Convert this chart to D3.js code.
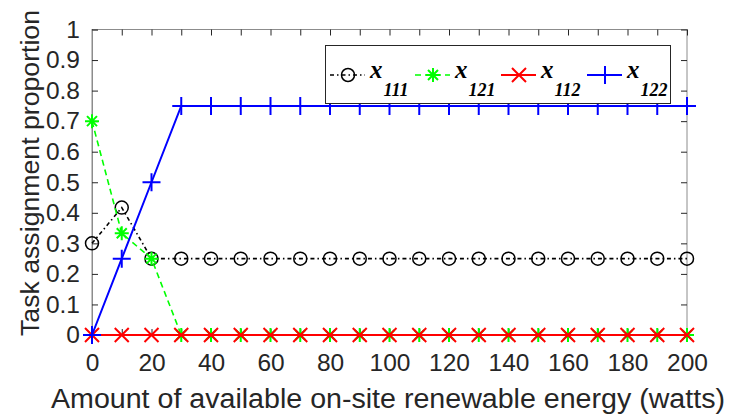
<!DOCTYPE html>
<html>
<head>
<meta charset="utf-8">
<script src="https://cdn.jsdelivr.net/npm/d3@7"></script>
<style>
  body { margin: 0; background: #fff; }
  svg { display: block; }
</style>
</head>
<body>
<div id="chart"></div>
<script>
// chart size and plot box
const width = 729;
const height = 418;
const margin = {left: 92, right: 42, top: 29.5, bottom: 83};

// data
const energy = [0, 10, 20, 30, 40, 50, 60, 70, 80, 90, 100, 110, 120, 130, 140, 150, 160, 170, 180, 190, 200];
const x111 = [0.3, 0.417, 0.25, 0.25, 0.25, 0.25, 0.25, 0.25, 0.25, 0.25, 0.25, 0.25, 0.25, 0.25, 0.25, 0.25, 0.25, 0.25, 0.25, 0.25, 0.25];
const x121 = [0.7, 0.333, 0.25, 0, 0, 0, 0, 0, 0, 0, 0, 0, 0, 0, 0, 0, 0, 0, 0, 0, 0];
const x112 = [0, 0, 0, 0, 0, 0, 0, 0, 0, 0, 0, 0, 0, 0, 0, 0, 0, 0, 0, 0, 0];
const x122 = [0, 0.25, 0.5, 0.75, 0.75, 0.75, 0.75, 0.75, 0.75, 0.75, 0.75, 0.75, 0.75, 0.75, 0.75, 0.75, 0.75, 0.75, 0.75, 0.75, 0.75];
const seriesNames = ["111", "121", "112", "122"];
const xTicks = d3.range(0, 201, 10);
const yTicks = d3.range(0, 1.0001, 0.1);

const series = [
  {sub: seriesNames[0], values: x111, color: "#000000", dash: "4,3,1.5,3", marker: "circle"},
  {sub: seriesNames[1], values: x121, color: "#00ff00", dash: "6,4", marker: "star"},
  {sub: seriesNames[2], values: x112, color: "#ff0000", dash: null, marker: "cross"},
  {sub: seriesNames[3], values: x122, color: "#0000ff", dash: null, marker: "plus"}
];

const svg = d3.select("#chart")
  .append("svg")
  .attr("width", width)
  .attr("height", height);

const xScale = d3.scaleLinear()
  .domain([0, 200])
  .range([margin.left, width - margin.right]);

const yScale = d3.scaleLinear()
  .domain([0, 1])
  .range([height - margin.bottom, margin.top]);

const axisColor = "#262626";
const font = "'Liberation Sans', Arial, sans-serif";

// box
svg.append("rect")
  .attr("x", xScale(0))
  .attr("y", yScale(1))
  .attr("width", xScale(200) - xScale(0))
  .attr("height", yScale(0) - yScale(1))
  .attr("fill", "none")
  .attr("stroke", "#8c8c8c")
  .attr("stroke-width", 1);

// axes with inward ticks
const tickLen = 6;
svg.append("g")
  .attr("transform", `translate(0,${yScale(0)})`)
  .call(d3.axisBottom(xScale).tickValues(xTicks).tickSize(-tickLen).tickPadding(19)
    .tickFormat(d => d % 20 === 0 ? d : ""))
  .call(g => g.select(".domain").attr("stroke", "#8c8c8c"))
  .call(g => g.selectAll("line").attr("stroke", axisColor))
  .call(g => g.selectAll("text").attr("font-family", font).attr("font-size", "24.5px").attr("fill", axisColor));

svg.append("g")
  .attr("transform", `translate(0,${yScale(1)})`)
  .call(d3.axisTop(xScale).tickValues(xTicks).tickSize(-tickLen).tickFormat(""))
  .call(g => g.select(".domain").remove())
  .call(g => g.selectAll("line").attr("stroke", axisColor));

svg.append("g")
  .attr("transform", `translate(${xScale(0)},0)`)
  .call(d3.axisLeft(yScale).tickValues(yTicks).tickSize(-tickLen).tickPadding(12)
    .tickFormat(d => d3.format("~g")(+d.toFixed(1))))
  .call(g => g.select(".domain").attr("stroke", "#8c8c8c"))
  .call(g => g.selectAll("line").attr("stroke", axisColor))
  .call(g => g.selectAll("text").attr("font-family", font).attr("font-size", "24.5px").attr("fill", axisColor));

svg.append("g")
  .attr("transform", `translate(${xScale(200)},0)`)
  .call(d3.axisRight(yScale).tickValues(yTicks).tickSize(-tickLen).tickFormat(""))
  .call(g => g.select(".domain").remove())
  .call(g => g.selectAll("line").attr("stroke", axisColor));

// axis titles
svg.append("text")
  .attr("x", 388)
  .attr("y", 408)
  .attr("text-anchor", "middle")
  .attr("font-family", font)
  .attr("font-size", "27px")
  .attr("textLength", 674)
  .attr("lengthAdjust", "spacingAndGlyphs")
  .attr("fill", axisColor)
  .text("Amount of available on-site renewable energy (watts)");

svg.append("text")
  .attr("transform", `translate(39,173) rotate(-90)`)
  .attr("text-anchor", "middle")
  .attr("font-family", font)
  .attr("font-size", "26px")
  .attr("textLength", 326)
  .attr("lengthAdjust", "spacingAndGlyphs")
  .attr("fill", axisColor)
  .text("Task assignment proportion");

// marker drawing
function drawMarker(g, type, color) {
  if (type === "circle") {
    g.append("circle").attr("r", 6.5).attr("fill", "none").attr("stroke", color).attr("stroke-width", 1.5);
  } else if (type === "plus") {
    g.append("path").attr("d", "M-9,0H9M0,-9V9").attr("stroke", color).attr("stroke-width", 2);
  } else if (type === "cross") {
    g.append("path").attr("d", "M-7,-7L7,7M-7,7L7,-7").attr("stroke", color).attr("stroke-width", 2);
  } else if (type === "star") {
    g.append("path").attr("d", "M-7,0H7M0,-7V7M-5,-5L5,5M-5,5L5,-5").attr("stroke", color).attr("stroke-width", 2);
  }
}

const line = d3.line()
  .x((d, i) => xScale(energy[i]))
  .y(d => yScale(d));

series.forEach(s => {
  svg.append("path")
    .datum(s.values)
    .attr("d", line)
    .attr("fill", "none")
    .attr("stroke", s.color)
    .attr("stroke-width", s.marker === "plus" || s.marker === "cross" ? 2 : 1.6)
    .attr("stroke-dasharray", s.dash);

  svg.append("g").selectAll("g")
    .data(s.values)
    .enter()
    .append("g")
    .attr("transform", (d, i) => `translate(${xScale(energy[i])},${yScale(d)})`)
    .each(function() { drawMarker(d3.select(this), s.marker, s.color); });
});

// legend
const legend = svg.append("g");
legend.append("rect")
  .attr("x", 325.5).attr("y", 45.5)
  .attr("width", 345).attr("height", 58)
  .attr("fill", "#fff")
  .attr("stroke", axisColor)
  .attr("stroke-width", 1);

const legendX = [330, 415, 501, 587];
series.forEach((s, i) => {
  const lx = legendX[i];
  const ly = 75;
  legend.append("line")
    .attr("x1", lx).attr("x2", lx + 35)
    .attr("y1", ly).attr("y2", ly)
    .attr("stroke", s.color)
    .attr("stroke-width", s.marker === "plus" || s.marker === "cross" ? 2 : 1.6)
    .attr("stroke-dasharray", s.dash);
  drawMarker(legend.append("g").attr("transform", `translate(${lx + 18},${ly})`), s.marker, s.color);
  const t = legend.append("text")
    .attr("x", lx + 40)
    .attr("y", ly + 3)
    .attr("font-family", "'Liberation Serif', 'Times New Roman', serif")
    .attr("font-style", "italic")
    .attr("font-weight", "bold")
    .attr("fill", "#000");
  t.append("tspan").attr("font-size", "25px").text("x");
  t.append("tspan").attr("font-size", "18px").attr("dx", 1).attr("dy", 18).text(s.sub);
});
</script>
</body>
</html>
